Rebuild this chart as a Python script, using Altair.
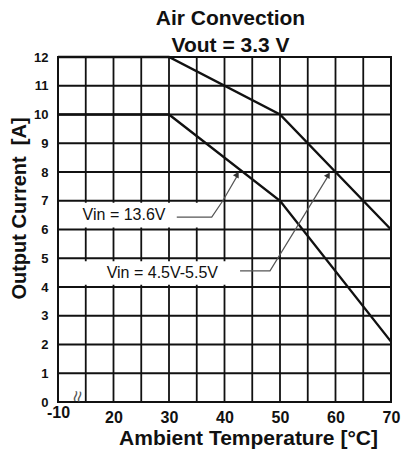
import altair as alt
import pandas as pd

# ---- data ----
temp_hi = [10, 30, 50, 70]          # Vin = 4.5V-5.5V curve (upper)
curr_hi = [12, 12, 10, 6]
temp_lo = [10, 30, 50, 70]          # Vin = 13.6V curve (lower)
curr_lo = [10, 10, 7, 2.1]

x_grid = [15, 20, 25, 30, 35, 40, 45, 50, 55, 60, 65]
y_grid = [1, 2, 3, 4, 5, 6, 7, 8, 9, 10, 11]
x_ticks = [10, 20, 30, 40, 50, 60, 70]
y_ticks = [0, 1, 2, 3, 4, 5, 6, 7, 8, 9, 10, 11, 12]

label_text = ["Vin = 13.6V", "Vin = 4.5V-5.5V"]
label_x = [21.9, 28.8]
label_y = [6.5, 4.5]
box_x1 = [10.2, 10.2]
box_x2 = [36.5, 42.6]
box_y1 = [6.07, 4.08]
box_y2 = [6.93, 4.9]

lead13_x = [31.4, 37.7, 39.7, 42.4]
lead13_y = [6.43, 6.43, 7.0, 7.9]
lead45_x = [42.8, 48.2, 58.8]
lead45_y = [4.56, 4.56, 7.9]
arrow_x = [42.3, 58.7]
arrow_y = [7.92, 7.9]
arrow_angle = [30, 31]

SANS = "Liberation Sans, Arial, sans-serif"

xs = alt.Scale(domain=[10, 70], nice=False, zero=False)
ys = alt.Scale(domain=[0, 12], nice=False)

x_axis = alt.Axis(values=x_ticks, grid=False, ticks=False, domain=False,
                  labelExpr="datum.value == 10 ? '-10' : datum.label",
                  labelFont=SANS, labelFontSize=16, labelFontWeight="bold",
                  labelColor="#111",
                  labelPadding={"condition": {"test": "datum.value == 10", "value": 2}, "value": 7},
                  labelFlush=False,
                  title="Ambient Temperature [°C]", titleFont=SANS,
                  titleFontSize=21, titleFontWeight="bold", titleColor="#111",
                  titleX=190, titleY=42, titleAlign="center",
                  titleBaseline="alphabetic")
y_axis = alt.Axis(values=y_ticks, grid=False, ticks=False, domain=False,
                  labelFont=SANS, labelFontSize=13, labelFontWeight="bold",
                  labelColor="#111", labelPadding=10,
                  title="Output Current\u00a0\u00a0[A]", titleFont=SANS,
                  titleFontSize=20, titleFontWeight="bold", titleColor="#111",
                  titleAngle=270, titleX=-33, titleY=151, titleAlign="center",
                  titleBaseline="alphabetic")

X = lambda f: alt.X(f, type="quantitative", scale=xs, axis=x_axis)
Y = lambda f: alt.Y(f, type="quantitative", scale=ys, axis=y_axis)

vgrid = alt.Chart(pd.DataFrame({"x": x_grid})).mark_rule(
    color="#111", strokeWidth=1.8).encode(x=X("x"))
hgrid = alt.Chart(pd.DataFrame({"y": y_grid})).mark_rule(
    color="#111", strokeWidth=1.8).encode(y=Y("y"))

boxes = alt.Chart(pd.DataFrame({"x1": box_x1, "x2": box_x2, "y1": box_y1, "y2": box_y2})).mark_rect(
    color="white").encode(x=X("x1"), x2="x2", y=Y("y1"), y2="y2")

curves = pd.concat([
    pd.DataFrame({"t": temp_hi, "c": curr_hi, "s": "hi", "o": range(len(temp_hi))}),
    pd.DataFrame({"t": temp_lo, "c": curr_lo, "s": "lo", "o": range(len(temp_lo))}),
])
lines = alt.Chart(curves).mark_line(color="#111", strokeWidth=2.4).encode(
    x=X("t"), y=Y("c"), detail="s:N", order="o:Q")

leaders = pd.concat([
    pd.DataFrame({"x": lead13_x, "y": lead13_y, "s": "a", "o": range(len(lead13_x))}),
    pd.DataFrame({"x": lead45_x, "y": lead45_y, "s": "b", "o": range(len(lead45_x))}),
])
lead = alt.Chart(leaders).mark_line(color="#555", strokeWidth=1.2).encode(
    x=X("x"), y=Y("y"), detail="s:N", order="o:Q")

arrows = alt.Chart(pd.DataFrame({"x": arrow_x, "y": arrow_y, "a": arrow_angle})).mark_point(
    shape="triangle-up", filled=True, color="#333", size=45, opacity=1).encode(
    x=X("x"), y=Y("y"), angle=alt.Angle("a:Q", scale=None))

labels = alt.Chart(pd.DataFrame({"x": label_x, "y": label_y, "t": label_text})).mark_text(
    font=SANS, fontSize=16, color="#111", align="center", baseline="middle").encode(
    x=X("x"), y=Y("y"), text="t:N")

brk = alt.Chart(pd.DataFrame({"x": [13.4], "y": [0.2], "t": ["≈"]})).mark_text(
    font=SANS, fontSize=20, color="#555", angle=100, align="center", baseline="middle").encode(
    x=X("x"), y=Y("y"), text="t:N")

chart = alt.layer(vgrid, hgrid, boxes, lines, lead, arrows, labels, brk).properties(
    width=333, height=345,
    title=alt.TitleParams(["Air Convection", "Vout = 3.3 V"], anchor="middle", frame="group",
                          font=SANS, fontSize=21, fontWeight="bold", color="#111",
                          lineHeight=27, offset=-5, dx=6),
    autosize=alt.AutoSizeParams(type="none"),
    padding={"left": 58, "top": 57, "right": 10, "bottom": 52},
).configure(background="white").configure_view(stroke="#111", strokeWidth=2)

chart.save("out.html", embed_options={"renderer": "svg", "actions": False})
